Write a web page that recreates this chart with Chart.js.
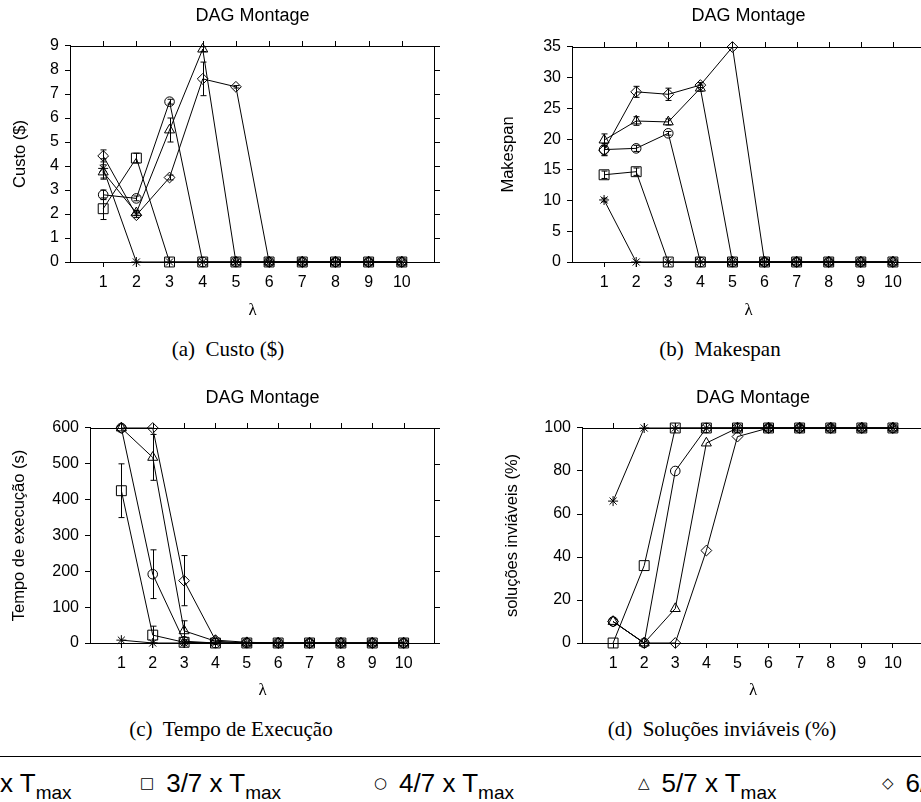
<!DOCTYPE html>
<html><head><meta charset="utf-8">
<script src="https://cdn.jsdelivr.net/npm/chart.js@4.4.0/dist/chart.umd.min.js"></script>
<style>
html,body{margin:0;padding:0;background:#fff;width:921px;height:802px;overflow:hidden;position:relative}
.cv{position:absolute}
.cap{position:absolute;font-family:"Liberation Serif","Times New Roman",serif;font-size:21px;line-height:21px;color:#000;white-space:pre;transform:translateX(-50%)}
#rule{position:absolute;left:0;width:921px;top:756px;height:0;border-top:1px solid #000}
.leg{position:absolute;top:770px;font-family:"Liberation Sans",Arial,sans-serif;font-size:26px;line-height:26px;white-space:nowrap;color:#000}
.leg sub{font-size:19px;vertical-align:-7px;line-height:0}
.mk{font-family:"DejaVu Sans",sans-serif;font-size:15px;vertical-align:4px;margin-right:12px}
</style></head>
<body>
<canvas id="ca" class="cv" width="460" height="335" style="left:0;top:0"></canvas>
<canvas id="cb" class="cv" width="480" height="335" style="left:460px;top:0"></canvas>
<canvas id="cc" class="cv" width="460" height="335" style="left:0;top:380px"></canvas>
<canvas id="cd" class="cv" width="480" height="335" style="left:460px;top:380px"></canvas>
<div class="cap" style="left:228px;top:339px">(a)  Custo ($)</div>
<div class="cap" style="left:720px;top:339px">(b)  Makespan</div>
<div class="cap" style="left:231px;top:719px">(c)  Tempo de Execução</div>
<div class="cap" style="left:722px;top:719px">(d)  Soluções inviáveis (%)</div>
<div id="rule"></div>
<div class="leg" style="left:0"><span style="position:absolute;right:100%;white-space:pre"><span class="mk">✱</span>2/7 </span>x T<sub>max</sub></div>
<div class="leg" style="left:140px"><span class="mk">□</span>3/7 x T<sub>max</sub></div>
<div class="leg" style="left:374px"><span class="mk">○</span>4/7 x T<sub>max</sub></div>
<div class="leg" style="left:638px"><span class="mk">△</span>5/7 x T<sub>max</sub></div>
<div class="leg" style="left:882px"><span class="mk">◇</span>6/7 x T<sub>max</sub></div>
<script>
// ---- data ----
const lambdas = [1,2,3,4,5,6,7,8,9,10];
const seriesNames = ['2/7 x Tmax','3/7 x Tmax','4/7 x Tmax','5/7 x Tmax','6/7 x Tmax'];

// (a) Custo ($)
const custo_27 = [3.9,0,0,0,0,0,0,0,0,0];
const custo_37 = [2.22,4.33,0,0,0,0,0,0,0,0];
const custo_47 = [2.8,2.65,6.68,0,0,0,0,0,0,0];
const custo_57 = [3.75,2.05,5.5,8.87,0,0,0,0,0,0];
const custo_67 = [4.42,1.95,3.52,7.63,7.3,0,0,0,0,0];
const custoErr_27 = [0.4,0,0,0,0,0,0,0,0,0];
const custoErr_37 = [0.45,0.2,0,0,0,0,0,0,0,0];
const custoErr_47 = [0.2,0.1,0.1,0,0,0,0,0,0,0];
const custoErr_57 = [0.3,0.1,0.5,0.1,0,0,0,0,0,0];
const custoErr_67 = [0.25,0.1,0.1,0.7,0.05,0,0,0,0,0];

// (b) Makespan
const mk_27 = [10.1,0,0,0,0,0,0,0,0,0];
const mk_37 = [14.2,14.7,0,0,0,0,0,0,0,0];
const mk_47 = [18.3,18.5,20.95,0,0,0,0,0,0,0];
const mk_57 = [19.85,22.95,22.8,28.3,0,0,0,0,0,0];
const mk_67 = [18.2,27.7,27.3,28.8,35,0,0,0,0,0];
const mkErr_27 = [0.3,0,0,0,0,0,0,0,0,0];
const mkErr_37 = [0.6,0.6,0,0,0,0,0,0,0,0];
const mkErr_47 = [1.0,0.5,0.3,0,0,0,0,0,0,0];
const mkErr_57 = [1.0,0.7,0.5,0.5,0,0,0,0,0,0];
const mkErr_67 = [0.8,0.9,1.0,0.4,0,0,0,0,0,0];

// (c) Tempo de execução (s)
const tempo_27 = [8,0,0,0,0,0,0,0,0,0];
const tempo_37 = [425,22,2,0,0,0,0,0,0,0];
const tempo_47 = [600,192,5,0,0,0,0,0,0,0];
const tempo_57 = [600,518,34,5,0,0,0,0,0,0];
const tempo_67 = [600,600,174,8,2,0,0,0,0,0];
const tempoErr_27 = [0,0,0,0,0,0,0,0,0,0];
const tempoErr_37 = [75,25,0,0,0,0,0,0,0,0];
const tempoErr_47 = [0,68,5,0,0,0,0,0,0,0];
const tempoErr_57 = [0,64,28,0,0,0,0,0,0,0];
const tempoErr_67 = [0,0,70,0,0,0,0,0,0,0];

// (d) Soluções inviáveis (%)
const inv_27 = [66,100,100,100,100,100,100,100,100,100];
const inv_37 = [0,36,100,100,100,100,100,100,100,100];
const inv_47 = [10,0,80,100,100,100,100,100,100,100];
const inv_57 = [10,0,16,93,100,100,100,100,100,100];
const inv_67 = [10,0,0,43,96,100,100,100,100,100];

// y axis ticks
const custoTicks = {max:9, step:1};
const mkTicks = {max:35, step:5};
const tempoTicks = {max:600, step:100};
const invTicks = {max:100, step:20};

// ---- styles ----
const pointStyles = ['star','rect','circle','triangle','rectRot'];
const pointRadii = [5,7,4.8,5.8,5.4];
const SANS = '"Liberation Sans", Arial, sans-serif';

const errorBarPlugin = {
  id:'errbars',
  afterDatasetsDraw(chart){
    const {ctx} = chart; const x = chart.scales.x, y = chart.scales.y;
    ctx.save(); ctx.strokeStyle='#000'; ctx.lineWidth=1;
    chart.data.datasets.forEach(ds=>{
      if(!ds.errors) return;
      ds.data.forEach((p,i)=>{
        const e = ds.errors[i]; if(!e) return;
        const px = Math.round(x.getPixelForValue(p.x))+0.5;
        const y1 = y.getPixelForValue(p.y+e), y2 = y.getPixelForValue(Math.max(0,p.y-e));
        ctx.beginPath();
        ctx.moveTo(px,y1); ctx.lineTo(px,y2);
        ctx.moveTo(px-3,y1); ctx.lineTo(px+3,y1);
        ctx.moveTo(px-3,y2); ctx.lineTo(px+3,y2);
        ctx.stroke();
      });
    });
    ctx.restore();
  }
};
const framePlugin = {
  id:'frame',
  beforeDatasetsDraw(chart){
    const {ctx, chartArea:{left,right,top,bottom}} = chart; const x = chart.scales.x, y = chart.scales.y;
    ctx.save(); ctx.strokeStyle='#000'; ctx.lineWidth=1;
    ctx.beginPath();
    ctx.moveTo(left, top+0.5); ctx.lineTo(right, top+0.5);
    ctx.moveTo(right-0.5, top); ctx.lineTo(right-0.5, bottom);
    x.ticks.forEach(t=>{const px=Math.round(x.getPixelForValue(t.value))+0.5; ctx.moveTo(px, top); ctx.lineTo(px, top-5);});
    y.ticks.forEach(t=>{const py=Math.round(y.getPixelForValue(t.value))+0.5; ctx.moveTo(right, py); ctx.lineTo(right+5, py);});
    ctx.stroke(); ctx.restore();
  }
};

function makeChart(id, g, series, errors, yt, yTitle){
  const canvas = document.getElementById(id);
  const W = canvas.width, H = canvas.height;
  const datasets = series.map((vals,k)=>({
    label: seriesNames[k],
    data: lambdas.map((l,i)=>({x:l, y:vals[i]})),
    errors: errors ? errors[k] : null,
    borderColor:'#000', borderWidth:1, tension:0, fill:false,
    pointStyle: pointStyles[k], pointRadius: pointRadii[k],
    pointBorderColor:'#000', pointBackgroundColor:'rgba(0,0,0,0)', pointBorderWidth:1,
    clip:false
  }));
  return new Chart(canvas, {
    type:'line',
    data:{datasets},
    plugins:[framePlugin, errorBarPlugin],
    options:{
      responsive:false, animation:false, devicePixelRatio:1,
      layout:{autoPadding:false, padding:{left:0, top:0, right:W-g.right, bottom:0}},
      plugins:{
        legend:{display:false}, tooltip:{enabled:false},
        title:{display:true, text:'DAG Montage', fullSize:false, color:'#000',
               font:{family:SANS, size:18, weight:'normal', lineHeight:1.2},
               padding:{top:g.titleMid-10.8, bottom:g.top-(g.titleMid-10.8)-21.6}}
      },
      scales:{
        x:{type:'linear', min:0, max:11,
           afterBuildTicks:s=>{ s.ticks = lambdas.map(v=>({value:v})); },
           afterFit:s=>{ s.height = H - g.bottom; },
           ticks:{color:'#000', font:{family:SANS, size:16}, padding:6, autoSkip:false, maxRotation:0},
           grid:{drawOnChartArea:false, drawTicks:true, tickLength:5, color:'#000'},
           border:{display:true, color:'#000', width:1},
           title:{display:true, text:'λ', color:'#000', font:{family:'"Liberation Serif", serif', size:17, lineHeight:1.2},
                  padding:{top:0, bottom:(H-g.lambdaMid)-10.2}}
        },
        y:{min:0, max:yt.max,
           afterFit:s=>{ s.width = g.left; },
           ticks:{stepSize:yt.step, color:'#000', font:{family:SANS, size:16}, padding:6},
           grid:{drawOnChartArea:false, drawTicks:true, tickLength:5, color:'#000'},
           border:{display:true, color:'#000', width:1},
           title:{display:true, text:yTitle, color:'#000', font:{family:SANS, size:16.5, lineHeight:1.2},
                  padding:{top:g.yTitleMid-9.9, bottom:0}}
        }
      }
    }
  });
}

makeChart('ca', {left:70, right:435, top:46, bottom:262, titleMid:16.5, lambdaMid:311, yTitleMid:20},
  [custo_27,custo_37,custo_47,custo_57,custo_67],
  [custoErr_27,custoErr_37,custoErr_47,custoErr_57,custoErr_67], custoTicks, 'Custo ($)');
makeChart('cb', {left:112, right:465, top:47, bottom:262, titleMid:16.5, lambdaMid:311, yTitleMid:48},
  [mk_27,mk_37,mk_47,mk_57,mk_67],
  [mkErr_27,mkErr_37,mkErr_47,mkErr_57,mkErr_67], mkTicks, 'Makespan');
makeChart('cc', {left:90, right:435, top:48, bottom:263, titleMid:18, lambdaMid:311, yTitleMid:19},
  [tempo_27,tempo_37,tempo_47,tempo_57,tempo_67],
  [tempoErr_27,tempoErr_37,tempoErr_47,tempoErr_57,tempoErr_67], tempoTicks, 'Tempo de execução (s)');
makeChart('cd', {left:122, right:464, top:48, bottom:263, titleMid:18, lambdaMid:311, yTitleMid:52},
  [inv_27,inv_37,inv_47,inv_57,inv_67], null, invTicks, 'soluções inviáveis (%)');
</script>
</body></html>
